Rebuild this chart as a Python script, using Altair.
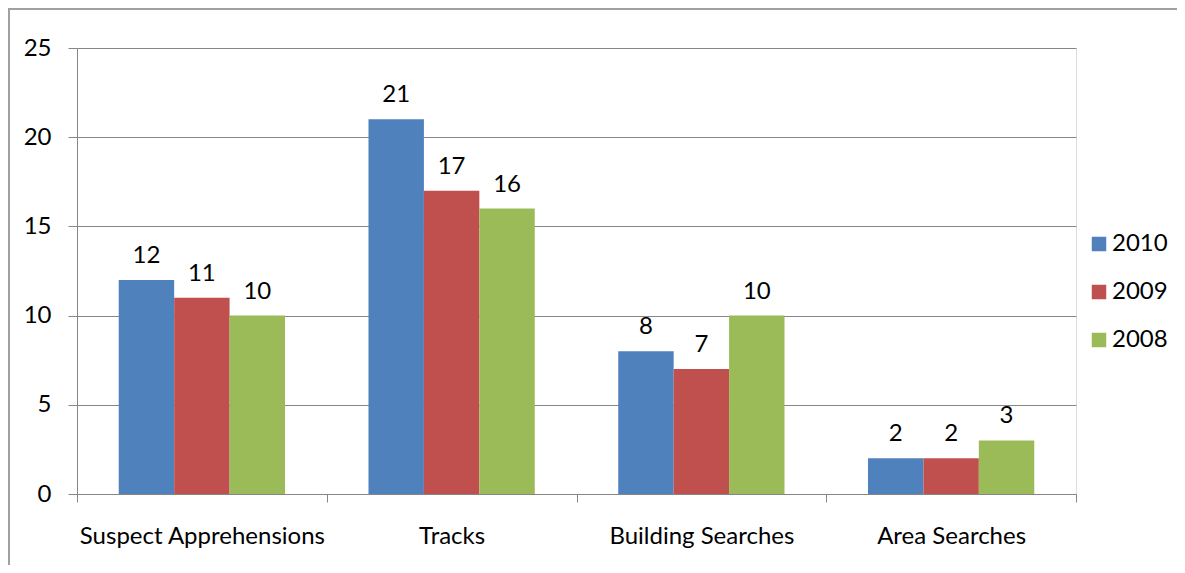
import altair as alt
import pandas as pd

categories = ["Suspect Apprehensions", "Tracks", "Building Searches", "Area Searches"]
years = ["2010", "2009", "2008"]
v2010 = [12, 21, 8, 2]
v2009 = [11, 17, 7, 2]
v2008 = [10, 16, 10, 3]
colors = ["#4F81BD", "#C0504D", "#9BBB59"]

rows = []
for yr, vals in zip(years, [v2010, v2009, v2008]):
    for c, v in zip(categories, vals):
        rows.append({"category": c, "year": yr, "value": v})
df = pd.DataFrame(rows)

FONT = "Lato"
FS = 24
GRAY = "#868686"

x = alt.X("category:N", sort=categories, title=None,
          scale=alt.Scale(paddingInner=0, paddingOuter=0),
          axis=alt.Axis(labelAngle=0, labelFontSize=FS, labelFont=FONT, labelColor="black",
                        tickBand="extent", tickSize=8, tickColor=GRAY, domainColor=GRAY,
                        labelPadding=22, labelLimit=400, grid=False))
xo = alt.XOffset("year:N", sort=years, scale=alt.Scale(paddingInner=0, paddingOuter=0.753))
y = alt.Y("value:Q", title=None,
          scale=alt.Scale(domain=[0, 25], nice=False),
          axis=alt.Axis(values=[0, 5, 10, 15, 20, 25], labelFontSize=FS, labelFont=FONT,
                        labelColor="black", tickSize=9, tickColor=GRAY, domainColor=GRAY,
                        gridColor=GRAY, labelPadding=17))
color = alt.Color("year:N", sort=years, title=None,
                  scale=alt.Scale(domain=years, range=colors),
                  legend=alt.Legend(orient="none", legendX=1010, legendY=184,
                                    symbolType="square", symbolSize=210, symbolStrokeWidth=0,
                                    labelFontSize=FS, labelFont=FONT, labelColor="black",
                                    rowPadding=24, labelOffset=1))

base = alt.Chart(df)
bars = base.mark_bar(strokeWidth=0).encode(x=x, xOffset=xo, y=y, color=color)
labels = base.mark_text(fontSize=FS, font=FONT, baseline="alphabetic", dy=-17, color="black").encode(
    x=alt.X("category:N", sort=categories), xOffset=alt.XOffset("year:N", sort=years),
    y="value:Q", text="value:Q")

frame_df = pd.DataFrame({"k": [0]})
top_line = alt.Chart(frame_df).mark_rule(color="#A0A0A0", strokeWidth=2).encode(
    x=alt.value(-70), x2=alt.value(1105), y=alt.value(-39))
left_line = alt.Chart(frame_df).mark_rule(color="#A0A0A0", strokeWidth=2).encode(
    x=alt.value(-68), y=alt.value(-39), y2=alt.value(520))

chart = alt.layer(bars, labels, top_line, left_line).properties(
    width=999, height=446,
    autosize=alt.AutoSizeParams(type="none"),
    padding={"left": 69, "top": 40, "right": 101, "bottom": 71},
).configure_view(stroke=None).configure(background="white")

chart.save("out.html", embed_options={"renderer": "svg", "actions": False})
